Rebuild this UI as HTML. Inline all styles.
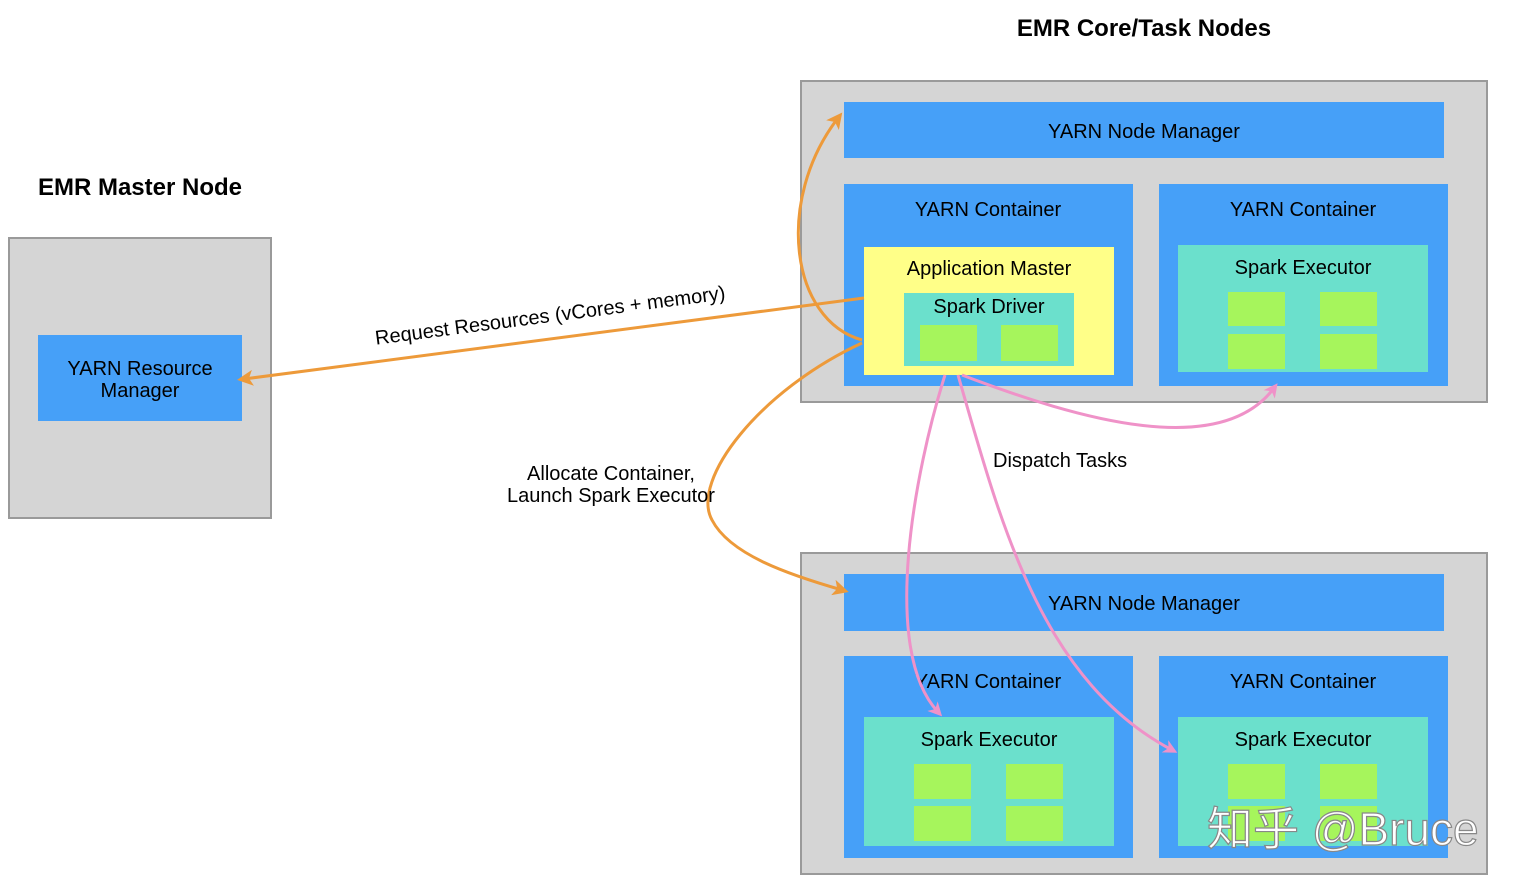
<!DOCTYPE html>
<html><head><meta charset="utf-8"><style>
html,body{margin:0;padding:0;background:#fff;}
svg{display:block;font-family:"Liberation Sans",Arial,sans-serif;}
</style></head><body>
<svg width="1518" height="892" viewBox="0 0 1518 892" xmlns="http://www.w3.org/2000/svg">
<defs>
<marker id="ap" markerWidth="14" markerHeight="14" refX="8" refY="7" orient="auto" markerUnits="userSpaceOnUse"><path d="M0,0 L14,7 L0,14 L4,7 Z" fill="#ef92c8"/></marker>
<marker id="aos" markerWidth="16" markerHeight="16" refX="9" refY="8" orient="auto" markerUnits="userSpaceOnUse"><path d="M0,0 L16,8 L0,16 L4,8 Z" fill="#ed9a3a"/></marker>
</defs>
<text x="1144" y="36" text-anchor="middle" font-size="24" font-weight="bold">EMR Core/Task Nodes</text>
<text x="140" y="195" text-anchor="middle" font-size="24" font-weight="bold">EMR Master Node</text>

<rect x="9" y="238" width="262" height="280" fill="#d5d5d5" stroke="#9a9a9a" stroke-width="2"/>
<rect x="38" y="335" width="204" height="86" fill="#46a0f8"/>
<text x="140" y="375" text-anchor="middle" font-size="20">YARN Resource</text>
<text x="140" y="397" text-anchor="middle" font-size="20">Manager</text>

<rect x="801" y="81" width="686" height="321" fill="#d5d5d5" stroke="#9a9a9a" stroke-width="2"/>
<rect x="844" y="102" width="600" height="56" fill="#46a0f8"/>
<text x="1144" y="138" text-anchor="middle" font-size="20">YARN Node Manager</text>
<rect x="844" y="184" width="289" height="202" fill="#46a0f8"/>
<text x="988" y="216" text-anchor="middle" font-size="20">YARN Container</text>
<rect x="864" y="247" width="250" height="128" fill="#ffff88"/>
<text x="989" y="275" text-anchor="middle" font-size="20">Application Master</text>
<rect x="904" y="293" width="170" height="73" fill="#6be0cc"/>
<text x="989" y="313" text-anchor="middle" font-size="20">Spark Driver</text>
<rect x="920" y="325" width="57" height="36" fill="#a6f55c"/>
<rect x="1001" y="325" width="57" height="36" fill="#a6f55c"/>
<rect x="1159" y="184" width="289" height="202" fill="#46a0f8"/>
<text x="1303" y="216" text-anchor="middle" font-size="20">YARN Container</text>
<rect x="1178" y="245" width="250" height="127" fill="#6be0cc"/>
<text x="1303" y="274" text-anchor="middle" font-size="20">Spark Executor</text>
<rect x="1228" y="292" width="57" height="34" fill="#a6f55c"/>
<rect x="1320" y="292" width="57" height="34" fill="#a6f55c"/>
<rect x="1228" y="334" width="57" height="35" fill="#a6f55c"/>
<rect x="1320" y="334" width="57" height="35" fill="#a6f55c"/>

<rect x="801" y="553" width="686" height="321" fill="#d5d5d5" stroke="#9a9a9a" stroke-width="2"/>
<rect x="844" y="574" width="600" height="57" fill="#46a0f8"/>
<text x="1144" y="610" text-anchor="middle" font-size="20">YARN Node Manager</text>
<rect x="844" y="656" width="289" height="202" fill="#46a0f8"/>
<text x="988" y="688" text-anchor="middle" font-size="20">YARN Container</text>
<rect x="864" y="717" width="250" height="129" fill="#6be0cc"/>
<text x="989" y="746" text-anchor="middle" font-size="20">Spark Executor</text>
<rect x="914" y="764" width="57" height="35" fill="#a6f55c"/>
<rect x="1006" y="764" width="57" height="35" fill="#a6f55c"/>
<rect x="914" y="806" width="57" height="35" fill="#a6f55c"/>
<rect x="1006" y="806" width="57" height="35" fill="#a6f55c"/>
<rect x="1159" y="656" width="289" height="202" fill="#46a0f8"/>
<text x="1303" y="688" text-anchor="middle" font-size="20">YARN Container</text>
<rect x="1178" y="717" width="250" height="129" fill="#6be0cc"/>
<text x="1303" y="746" text-anchor="middle" font-size="20">Spark Executor</text>
<rect x="1228" y="764" width="57" height="35" fill="#a6f55c"/>
<rect x="1320" y="764" width="57" height="35" fill="#a6f55c"/>
<rect x="1228" y="806" width="57" height="35" fill="#a6f55c"/>
<rect x="1320" y="806" width="57" height="35" fill="#a6f55c"/>

<path d="M864,298 L244,379" fill="none" stroke="#ed9a3a" stroke-width="3" marker-end="url(#aos)"/>
<path d="M862,340 C790,320 775,200 838,118" fill="none" stroke="#ed9a3a" stroke-width="3" marker-end="url(#aos)"/>
<path d="M862,343 C760,390 690,480 712,520 C730,555 790,575 842,590" fill="none" stroke="#ed9a3a" stroke-width="3" marker-end="url(#aos)"/>
<text transform="translate(551,322) rotate(-7.4)" text-anchor="middle" font-size="20">Request Resources (vCores + memory)</text>
<text x="611" y="480" text-anchor="middle" font-size="20">Allocate Container,</text>
<text x="611" y="502" text-anchor="middle" font-size="20">Launch Spark Executor</text>

<path d="M945,375 C915,470 880,650 938,712" fill="none" stroke="#ef92c8" stroke-width="3" marker-end="url(#ap)"/>
<path d="M958,375 C1000,520 1040,680 1172,750" fill="none" stroke="#ef92c8" stroke-width="3" marker-end="url(#ap)"/>
<path d="M962,375 C1080,420 1220,460 1274,388" fill="none" stroke="#ef92c8" stroke-width="3" marker-end="url(#ap)"/>
<text x="993" y="467" font-size="20">Dispatch Tasks</text>

<text x="1207" y="845" font-size="46" fill="#fff" stroke="#888" stroke-width="1.2" font-family="'Liberation Sans','Noto Sans CJK SC',sans-serif">知乎 @Bruce</text>
</svg>
</body></html>
